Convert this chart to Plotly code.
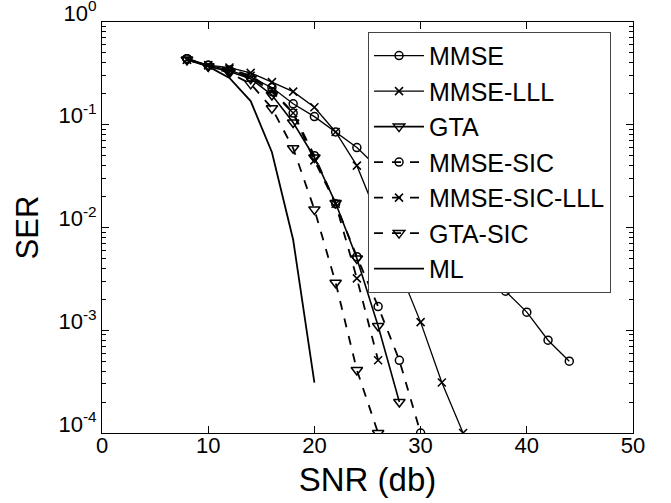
import plotly.graph_objects as go

# ---- data ----
mmse_snr = [8, 10, 12, 14, 16, 18, 20, 22, 24, 38, 40, 42, 44]
mmse_ser = [0.44, 0.38, 0.34, 0.29, 0.23, 0.16, 0.12, 0.085, 0.06, 2.4e-3, 1.5e-3, 8e-4, 5e-4]

mmse_lll_snr = [8, 10, 12, 14, 16, 18, 20, 22, 24, 30, 32, 34]
mmse_lll_ser = [0.43, 0.38, 0.36, 0.32, 0.26, 0.21, 0.148, 0.085, 0.04, 1.2e-3, 3.1e-4, 1e-4]

gta_snr = [8, 10, 12, 14, 16, 18, 20, 22, 24, 26, 28]
gta_ser = [0.43, 0.37, 0.33, 0.28, 0.195, 0.105, 0.048, 0.0173, 5e-3, 1.1e-3, 2e-4]

mmse_sic_snr = [8, 10, 12, 14, 16, 18, 20, 22, 24, 26, 28, 30]
mmse_sic_ser = [0.44, 0.38, 0.34, 0.29, 0.21, 0.13, 0.05, 0.017, 5.2e-3, 1.7e-3, 5.1e-4, 1e-4]

mmse_sic_lll_snr = [8, 10, 12, 14, 16, 18, 20, 22, 24, 26]
mmse_sic_lll_ser = [0.43, 0.38, 0.35, 0.30, 0.22, 0.13, 0.045, 0.017, 3.2e-3, 5.1e-4]

gta_sic_snr = [8, 10, 12, 14, 16, 18, 20, 22, 24, 26]
gta_sic_ser = [0.43, 0.37, 0.32, 0.25, 0.145, 0.059, 0.015, 2.9e-3, 4.1e-4, 1e-4]

ml_snr = [8, 10, 12, 14, 16, 18, 20]
ml_ser = [0.44, 0.37, 0.285, 0.17, 0.054, 7.6e-3, 3.1e-4]

x_ticks = [0, 10, 20, 30, 40, 50]
y_tickvals = [1e-4, 1e-3, 1e-2, 1e-1, 1]
y_ticktext = ["10<sup>-4</sup>", "10<sup>-3</sup>", "10<sup>-2</sup>", "10<sup>-1</sup>", "10<sup>0</sup>"]

series = [
    ("MMSE", mmse_snr, mmse_ser, "solid", "circle-open", 1.3, 8),
    ("MMSE-LLL", mmse_lll_snr, mmse_lll_ser, "solid", "x-thin-open", 1.3, 8),
    ("GTA", gta_snr, gta_ser, "solid", "triangle-down-open", 1.6, 10),
    ("MMSE-SIC", mmse_sic_snr, mmse_sic_ser, "dash", "circle-open", 1.8, 8),
    ("MMSE-SIC-LLL", mmse_sic_lll_snr, mmse_sic_lll_ser, "dash", "x-thin-open", 1.8, 8),
    ("GTA-SIC", gta_sic_snr, gta_sic_ser, "dash", "triangle-down-open", 1.8, 10),
    ("ML", ml_snr, ml_ser, "solid", None, 1.8, 0),
]

font_family = "Arial, Liberation Sans, Helvetica, sans-serif"

fig = go.Figure()
for name, xs, ys, dash, sym, lw, ms in series:
    if sym is None:
        fig.add_trace(go.Scatter(x=xs, y=ys, name=name, mode="lines",
                                 line=dict(color="black", width=lw, dash=dash)))
    else:
        fig.add_trace(go.Scatter(x=xs, y=ys, name=name, mode="lines+markers",
                                 line=dict(color="black", width=lw, dash=dash),
                                 marker=dict(symbol=sym, size=ms, color="black",
                                             line=dict(color="black", width=1.5))))

fig.update_layout(
    width=671, height=503,
    margin=dict(l=102, r=38, t=22, b=70, autoexpand=False),
    paper_bgcolor="white", plot_bgcolor="white",
    font=dict(family=font_family, color="black", size=22),
    showlegend=True,
    legend=dict(x=0.501, y=0.976, xanchor="left", yanchor="top",
                bgcolor="white", bordercolor="#444", borderwidth=1,
                itemwidth=50,
                font=dict(size=25, family=font_family, color="black"),
                tracegroupgap=0),
    xaxis=dict(range=[0, 50], tickvals=x_ticks, ticks="inside", ticklen=7,
               tickcolor="black", showline=True, linecolor="black", linewidth=1,
               mirror="allticks", showgrid=False, zeroline=False,
               tickfont=dict(size=22), ticklabelstandoff=-7,
               title=dict(text="SNR (db)", font=dict(size=33), standoff=10)),
    yaxis=dict(type="log", range=[-4, 0], tickvals=y_tickvals, ticktext=y_ticktext,
               ticks="inside", ticklen=7, tickcolor="black",
               showline=True, linecolor="black", linewidth=1, mirror="allticks",
               showgrid=False, zeroline=False, tickfont=dict(size=22),
               ticklabelshift=-9, ticklabeloverflow="allow",
               minor=dict(ticks="inside", ticklen=4, tickcolor="black", dtick="D1", showgrid=False),
               title=dict(text="SER", font=dict(size=31), standoff=10)),
)

fig.write_html("out.html", config={"displayModeBar": False},
               post_script="document.body.style.margin='0';document.body.style.overflow='hidden';")
